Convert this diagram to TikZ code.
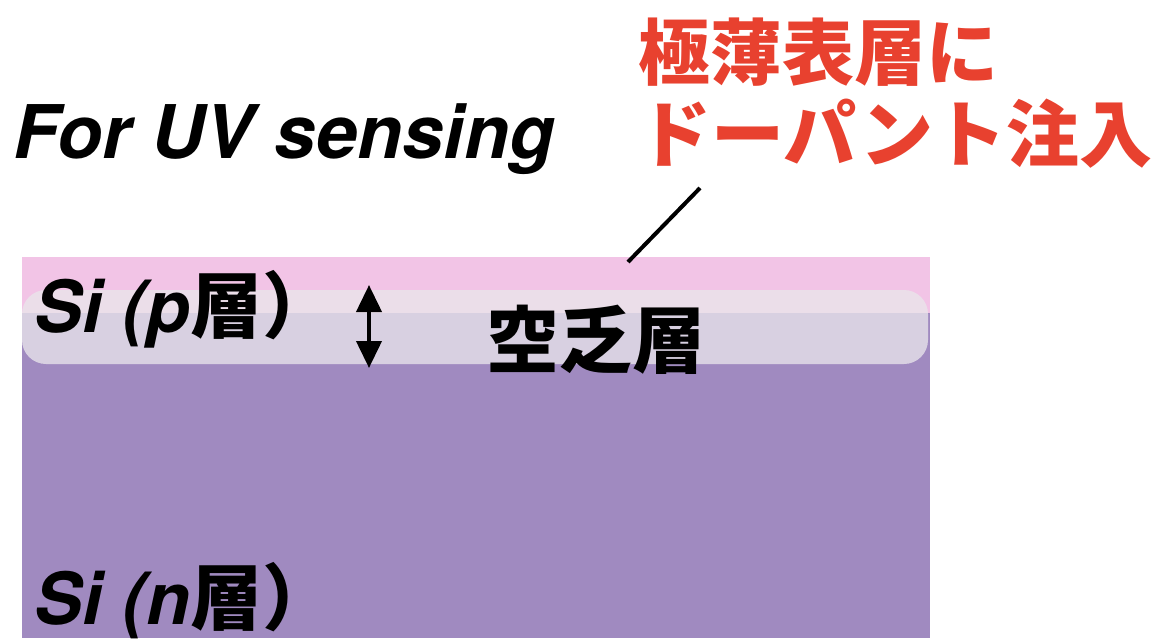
\documentclass[tikz,border=0pt]{standalone}
\usepackage{fontspec}
\setsansfont{TeX Gyre Heros}
\newfontfamily\cjk{Noto Sans CJK JP}
\usetikzlibrary{arrows.meta}
\definecolor{pinklayer}{HTML}{F2C4E6}
\definecolor{purplelayer}{HTML}{A08AC0}
\definecolor{bandfill}{RGB}{233,230,235}
\definecolor{redtext}{HTML}{E8412F}
\tikzset{
  lat/.style={font=\sffamily\bfseries\itshape, inner sep=0pt},
  jp/.style={font=\cjk\bfseries, inner sep=0pt},
}
\begin{document}
\begin{tikzpicture}[x=1pt,y=-1pt]
\useasboundingbox (0,0) rectangle (1162,642);
% layers
\fill[purplelayer] (22,257) rectangle (930,638);
\fill[pinklayer] (22,257) rectangle (930,313);
\fill[bandfill, opacity=0.77, rounded corners=24pt] (22,290) rectangle (928,364);
% texts
\node[lat, anchor=base west, font=\sffamily\bfseries\itshape\fontsize{74}{74}\selectfont] (title) at (13,158) {For UV sensing};
\node[jp, anchor=west, text=redtext, font=\cjk\bfseries\fontsize{72}{72}\selectfont] (red1) at (638,52) {極薄表層に};
\node[jp, anchor=west, text=redtext, font=\cjk\bfseries\fontsize{73}{73}\selectfont] (red2) at (638,134) {ドーパント注入};
\node[jp, anchor=center, font=\cjk\bfseries\fontsize{73}{73}\selectfont] (dep) at (596,340) {空乏層};
\node[anchor=base west, inner sep=0pt] (pl) at (34,332) {\fontsize{72}{72}\selectfont\sffamily\bfseries\itshape Si (p\cjk\bfseries 層）};
\node[anchor=base west, inner sep=0pt] (nl) at (34,624) {\fontsize{72}{72}\selectfont\sffamily\bfseries\itshape Si (n\cjk\bfseries 層）};
% connectors
\coordinate (lt) at (700,188);
\coordinate (lb) at (628,262);
\draw[line width=4pt] (lt) -- (lb);
\coordinate (at) at (369,285);
\coordinate (ab) at (369,368);
\draw[line width=4pt, {Triangle[width=25pt,length=27pt]}-{Triangle[width=25pt,length=27pt]}] (at) -- (ab);
\end{tikzpicture}
\end{document}
